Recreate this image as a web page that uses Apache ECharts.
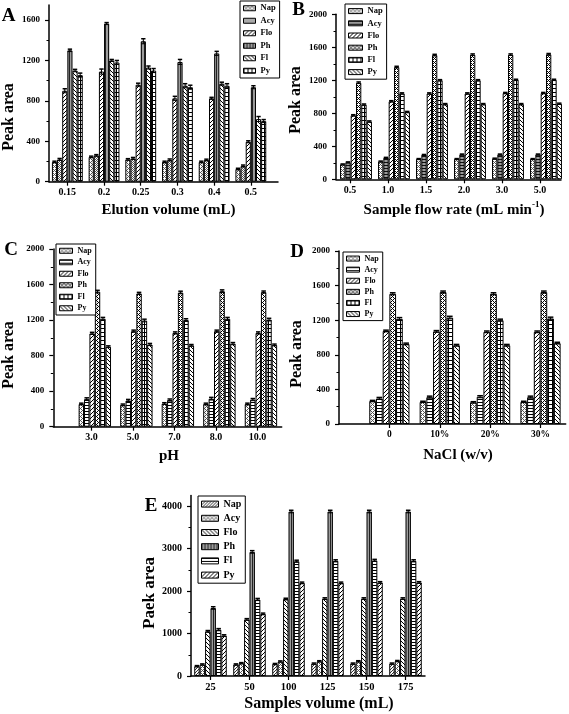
<!DOCTYPE html>
<html><head><meta charset="utf-8">
<script src="https://cdn.jsdelivr.net/npm/echarts@6/dist/echarts.min.js"></script>
<style>html,body{margin:0;padding:0;background:#fff}#c{width:569px;height:714px}</style>
</head><body><div id="c"></div>
<script>
// ---------------- DATA ----------------
const seriesNames = ['Nap','Acy','Flo','Ph','Fl','Py'];

const catsA = ['0.15','0.2','0.25','0.3','0.4','0.5'];
const valsA = [
  [195, 245, 220, 195, 195, 125],
  [220, 260, 230, 215, 215, 155],
  [900, 1090, 960, 825, 825, 395],
  [1300, 1565, 1390, 1185, 1270, 935],
  [1100, 1200, 1130, 950, 970, 620],
  [1055, 1180, 1100, 935, 950, 600]
];
const errA = [
  [8, 8, 8, 8, 8, 8],
  [10, 8, 10, 10, 8, 10],
  [20, 25, 15, 20, 10, 10],
  [12, 10, 25, 25, 20, 15],
  [12, 10, 15, 20, 15, 25],
  [20, 20, 20, 20, 20, 15]
];

const catsB = ['0.5','1.0','1.5','2.0','3.0','5.0'];
const valsB = [
  [180, 215, 245, 245, 250, 245],
  [205, 260, 295, 300, 300, 300],
  [775, 945, 1040, 1040, 1045, 1045],
  [1170, 1360, 1505, 1510, 1510, 1515],
  [905, 1040, 1200, 1200, 1205, 1205],
  [700, 815, 910, 910, 910, 915]
];
const errB = [
  [6, 6, 6, 6, 6, 6],
  [6, 6, 6, 6, 6, 6],
  [8, 8, 8, 8, 8, 8],
  [10, 10, 10, 10, 10, 10],
  [8, 8, 8, 8, 8, 8],
  [8, 8, 8, 8, 8, 8]
];

const catsC = ['3.0','5.0','7.0','8.0','10.0'];
const valsC = [
  [255, 245, 260, 255, 255],
  [310, 295, 300, 315, 305],
  [1050, 1075, 1055, 1075, 1055],
  [1520, 1500, 1510, 1525, 1515],
  [1215, 1195, 1200, 1215, 1205],
  [900, 925, 915, 935, 920]
];
const errC = [
  [10, 10, 10, 10, 10],
  [15, 12, 12, 15, 12],
  [12, 12, 12, 12, 12],
  [15, 12, 15, 15, 12],
  [15, 15, 15, 15, 15],
  [10, 12, 10, 12, 10]
];

const catsD = ['0','10%','20%','30%'];
const valsD = [
  [265, 255, 250, 255],
  [295, 310, 315, 310],
  [1075, 1070, 1065, 1065],
  [1505, 1525, 1505, 1525],
  [1215, 1230, 1200, 1220],
  [925, 910, 910, 935]
];
const errD = [
  [8, 8, 8, 8],
  [12, 12, 12, 12],
  [10, 10, 10, 10],
  [12, 12, 12, 12],
  [15, 15, 12, 15],
  [10, 10, 10, 10]
];

const catsE = ['25','50','100','125','150','175'];
const valsE = [
  [230, 270, 280, 290, 290, 290],
  [270, 300, 340, 345, 345, 350],
  [1050, 1330, 1810, 1820, 1820, 1820],
  [1600, 2920, 3870, 3870, 3870, 3870],
  [1090, 1800, 2700, 2710, 2720, 2710],
  [950, 1460, 2190, 2190, 2200, 2200]
];
const errE = [
  [15, 15, 15, 15, 15, 15],
  [15, 15, 15, 15, 15, 15],
  [20, 20, 20, 20, 20, 20],
  [30, 30, 30, 30, 30, 30],
  [25, 25, 25, 25, 25, 25],
  [20, 20, 20, 20, 20, 20]
];

const ticksA = [0, 400, 800, 1200, 1600];
const minorA = [200, 600, 1000, 1400];
const ticks2000 = [0, 400, 800, 1200, 1600, 2000];
const minor2000 = [200, 600, 1000, 1400, 1800];
const ticksE = [0, 1000, 2000, 3000, 4000];
const minorE = [500, 1500, 2500, 3500];

// ---------------- STYLE ----------------
const FONT = "'Liberation Serif','Times New Roman',serif";

function makePat(kind) {
  const sizes = {checkL:4, checkD:2, fwd:4, back:4, fwdG:3, vertG:3, horiz:3, horizG:3, grid:4, cross:4};
  const n = sizes[kind];
  const c = document.createElement('canvas'); c.width = n; c.height = n;
  const g = c.getContext('2d');
  const bgs = {vertG:'#9c9c9c', horizG:'#9a9a9a'};
  g.fillStyle = bgs[kind] || '#ffffff'; g.fillRect(0, 0, n, n);
  for (let x = 0; x < n; x++) for (let y = 0; y < n; y++) {
    let on = false, col = '#000';
    switch (kind) {
      case 'checkL': on = ((x + y) % 4 === 0) || (((x - y) % 4 + 4) % 4 === 0); col = '#555'; break;
      case 'checkD': on = ((x + y) % 2 === 0); col = '#555'; break;
      case 'fwd': on = (x + y) % n === 0; break;
      case 'back': on = (((x - y) % n) + n) % n === 0; break;
      case 'fwdG': on = (x + y) % 3 === 0; col = '#333'; break;
      case 'vertG': on = x === 0; col = '#222'; break;
      case 'horiz': on = y === 0; break;
      case 'horizG': on = y === 0; col = '#111'; break;
      case 'grid': on = x === 0 || y === 0; break;
      case 'cross': on = ((x + y) % n === 0) || ((((x - y) % n) + n) % n === 0); break;
    }
    if (on) { g.fillStyle = col; g.fillRect(x, y, 1, 1); }
  }
  return {image: c, repeat: 'repeat'};
}

const panels = [
  {key:'A', cats:catsA, vals:valsA, errs:errA, pats:['checkL','checkD','fwd','vertG','back','grid'],
   grid:{left:49, top:4.9, width:229, height:176.8}, xMin:0.5, xMax:6.74, yMax:1750,
   yMajor:ticksA, yMinor:minorA, frac:0.14, shift:0, xFont:10, yFont:9,
   legend:{left:240, top:1, lh:12.5, fs:8.5, iw:12, ih:5}},
  {key:'B', cats:catsB, vals:valsB, errs:errB, pats:['checkL','horizG','fwd','cross','grid','back'],
   grid:{left:336, top:14.3, width:225, height:165}, xMin:0.474, xMax:6.395, yMax:2000,
   yMajor:ticks2000, yMinor:minor2000, frac:0.14, shift:-0.16, xFont:10, yFont:9,
   legend:{left:345, top:4, lh:12.2, fs:8.5, iw:14, ih:5}},
  {key:'C', cats:catsC, vals:valsC, errs:errC, pats:['checkL','horiz','fwd','cross','grid','back'],
   grid:{left:53.3, top:249, width:228.4, height:177.7}, xMin:0, xMax:5.5, yMax:2000,
   yMajor:ticks2000, yMinor:minor2000, frac:0.13, shift:-0.08, xFont:10, yFont:9,
   legend:{left:56, top:244, lh:11.5, fs:8, iw:13, ih:5}},
  {key:'D', cats:catsD, vals:valsD, errs:errD, pats:['checkL','horiz','fwd','cross','grid','back'],
   grid:{left:339, top:251, width:226.7, height:173}, xMin:0, xMax:4.5, yMax:2000,
   yMajor:ticks2000, yMinor:minor2000, frac:0.133, shift:0, xFont:9.5, yFont:9,
   legend:{left:343, top:252, lh:11.1, fs:8, iw:13, ih:5}},
  {key:'E', cats:catsE, vals:valsE, errs:errE, pats:['fwdG','checkL','back','vertG','horiz','fwd'],
   grid:{left:191, top:495.4, width:234, height:180.6}, xMin:0.5, xMax:6.5, yMax:4250,
   yMajor:ticksE, yMinor:minorE, frac:0.139, shift:0, xFont:10.5, yFont:10,
   legend:{left:198, top:496, lh:14.2, fs:10, iw:17, ih:6}}
];

const grids = [], xAxes = [], yAxes = [], series = [], legends = [];
panels.forEach((p, pi) => {
  grids.push(Object.assign({containLabel:false}, p.grid));
  const labelPos = p.cats.map((c, i) => i + 1 + p.shift);
  xAxes.push({
    type:'value', gridIndex:pi, min:p.xMin, max:p.xMax,
    axisLine:{show:true, onZero:false, lineStyle:{color:'#000', width:1.5}},
    axisTick:{show:true, customValues:labelPos, length:4, lineStyle:{color:'#000', width:1.2}},
    axisLabel:{customValues:labelPos, margin:6,
      formatter:(v) => p.cats[Math.round(v) - 1] || '',
      fontFamily:FONT, fontWeight:'bold', fontSize:p.xFont, color:'#000'},
    splitLine:{show:false}
  });
  yAxes.push({
    type:'value', gridIndex:pi, min:0, max:p.yMax, position:'left',
    axisLine:{show:true, lineStyle:{color:'#000', width:1.5}},
    axisTick:{show:true, customValues:p.yMajor, length:4, lineStyle:{color:'#000', width:1.2}},
    axisLabel:{customValues:p.yMajor, margin:9, formatter:(v) => String(Math.round(v)),
      fontFamily:FONT, fontWeight:'bold', fontSize:p.yFont, color:'#000'},
    splitLine:{show:false}
  });
  p.vals.forEach((arr, si) => {
    series.push({
      type:'bar', name:p.key + '|' + seriesNames[si], xAxisIndex:pi, yAxisIndex:pi,
      data:arr.map((v, ci) => [ci + 1, v]),
      barWidth:(p.frac * 100) + '%', barGap:'0%',
      itemStyle:{color:makePat(p.pats[si]), borderColor:'#000', borderWidth:1},
      silent:true
    });
  });
  const edata = [];
  p.vals.forEach((arr, si) => arr.forEach((v, ci) => edata.push([ci + 1, v, p.errs[si][ci], si])));
  const frac = p.frac;
  series.push({
    type:'custom', xAxisIndex:pi, yAxisIndex:pi, data:edata, z:10, silent:true,
    renderItem(params, api) {
      const x = api.value(0), v = api.value(1), e = api.value(2), si = api.value(3);
      const unit = api.size([1, 0])[0];
      const bw = unit * frac;
      const cx = api.coord([x, v])[0] + (si - 2.5) * bw;
      const yt = api.coord([x, v + e])[1], yb = api.coord([x, v - e])[1];
      const hw = bw * 0.42;
      return {type:'group', children:[
        {type:'line', shape:{x1:cx, y1:yt, x2:cx, y2:yb}, style:{stroke:'#000', lineWidth:1}},
        {type:'line', shape:{x1:cx - hw, y1:yt, x2:cx + hw, y2:yt}, style:{stroke:'#000', lineWidth:1.5}},
        {type:'line', shape:{x1:cx - hw, y1:yb, x2:cx + hw, y2:yb}, style:{stroke:'#000', lineWidth:1}}
      ]};
    }
  });
  const L = p.legend;
  legends.push({
    data:seriesNames.map(n => p.key + '|' + n), formatter:(n) => n.split('|')[1],
    orient:'vertical', left:L.left, top:L.top, icon:'rect',
    itemWidth:L.iw, itemHeight:L.ih, itemGap:0, selectedMode:false,
    borderColor:'#000', borderWidth:1, padding:[1, 4, 1, 3], backgroundColor:'#fff',
    textStyle:{fontFamily:FONT, fontWeight:'bold', fontSize:L.fs, lineHeight:L.lh, color:'#000'},
    itemStyle:{borderColor:'#000', borderWidth:1}
  });
});
// minor y ticks
panels.forEach((p, pi) => {
  yAxes.push({
    type:'value', gridIndex:pi, min:0, max:p.yMax, position:'left',
    axisLine:{show:false}, axisLabel:{show:false}, splitLine:{show:false},
    axisTick:{show:true, customValues:p.yMinor, length:2.5, lineStyle:{color:'#000', width:1}}
  });
});

function txt(x, y, text, size, rot) {
  return {type:'text', x:x, y:y, rotation:rot || 0, silent:true,
    style:{text:text, fontFamily:FONT, fontWeight:'bold', fontSize:size, fill:'#000', align:'center', verticalAlign:'middle'}};
}
const graphics = [
  txt(8.5, 16.5, 'A', 19), txt(298.5, 10.5, 'B', 19), txt(11, 250, 'C', 19), txt(297, 252.5, 'D', 19), txt(151, 506.5, 'E', 19),
  txt(9, 117, 'Peak area', 16, Math.PI / 2),
  txt(296, 100, 'Peak area', 16, Math.PI / 2),
  txt(9, 355, 'Peak area', 16, Math.PI / 2),
  txt(297, 354, 'Peak area', 16, Math.PI / 2),
  txt(150, 593, 'Paek area', 17, Math.PI / 2),
  txt(168.5, 210.5, 'Elution volume (mL)', 15),
  {type:'text', x:454, y:209, silent:true, style:{
    text:'{n|Sample flow rate (mL min}{s|-1}{n|)}', align:'center', verticalAlign:'middle',
    rich:{n:{fontFamily:FONT, fontWeight:'bold', fontSize:15, lineHeight:18, fill:'#000', color:'#000', verticalAlign:'bottom'},
          s:{fontFamily:FONT, fontWeight:'bold', fontSize:9, lineHeight:10, fill:'#000', color:'#000', verticalAlign:'top'}}}},
  txt(169, 456, 'pH', 15),
  txt(458, 455, 'NaCl (w/v)', 15),
  txt(319, 704, 'Samples volume (mL)', 16)
];

const chart = echarts.init(document.getElementById('c'), null, {renderer:'canvas'});
chart.setOption({
  animation:false, backgroundColor:'#fff',
  grid:grids, xAxis:xAxes, yAxis:yAxes, series:series, legend:legends, graphic:graphics
});
</script>
</body></html>
